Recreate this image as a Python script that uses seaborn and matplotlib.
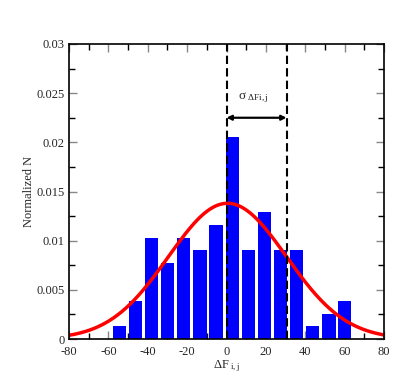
import numpy as np
import pandas as pd
import matplotlib
matplotlib.use("Agg")
import matplotlib.pyplot as plt
import seaborn as sns
from matplotlib.ticker import MultipleLocator

# ---- data ----
bin_centers = [-54.4, -46.2, -38.0, -29.9, -21.7, -13.5, -5.3, 2.9,
               11.1, 19.2, 27.4, 35.6, 43.8, 52.0, 60.1]
norm_counts = [0.00129, 0.00386, 0.01029, 0.00772, 0.01029, 0.00901, 0.01158,
               0.02059, 0.00901, 0.01287, 0.00901, 0.00901, 0.00129, 0.00257, 0.00386]
gauss_mu = 0.5
gauss_sigma = 30.0
gauss_amp = 0.0138
sigma_line_x = 30.5
arrow_y = 0.0225
xlabel = r"$\Delta$F$_{\ \mathrm{i,j}}$"
ylabel = "Normalized N"

sns.set_style("ticks")
plt.rcParams["font.family"] = ["Liberation Serif", "DejaVu Serif"]
plt.rcParams["mathtext.fontset"] = "custom"
plt.rcParams["mathtext.rm"] = "Liberation Serif"
plt.rcParams["mathtext.it"] = "Liberation Serif:italic"
plt.rcParams["mathtext.default"] = "rm"

fig = plt.figure(figsize=(4.15, 3.78), dpi=100)
ax = fig.add_axes([69/415, 1-339/378, (384-69)/415, (339-44)/378])

df = pd.DataFrame({"x": bin_centers, "y": norm_counts})
sns.barplot(data=df, x="x", y="y", native_scale=True, width=6.8/8.18,
            color="#0000ff", saturation=1, edgecolor="#0000ff", linewidth=0, ax=ax)

xs = np.linspace(-80, 80, 400)
curve = pd.DataFrame({"x": xs, "y": gauss_amp*np.exp(-(xs-gauss_mu)**2/(2*gauss_sigma**2))})
sns.lineplot(data=curve, x="x", y="y", color="#ff0000", lw=2.5, ax=ax)

for xv in (0, sigma_line_x):
    ax.axvline(xv, color="black", lw=1.5, ls=(0, (4, 2)), zorder=5)

ax.annotate("", xy=(0, arrow_y), xytext=(sigma_line_x, arrow_y),
            arrowprops=dict(arrowstyle="<|-|>", color="black", lw=1.6,
                            mutation_scale=7, shrinkA=0, shrinkB=0), zorder=6)
ax.text(13.5, 0.0245, r"$\sigma_{\ \Delta\mathrm{Fi,j}}$", ha="center", va="center", fontsize=9.5)

ax.set_xlim(-80, 80)
ax.set_ylim(0, 0.03)
ax.xaxis.set_minor_locator(MultipleLocator(10))
ax.yaxis.set_minor_locator(MultipleLocator(0.0025))
ax.set_xticks([-80, -60, -40, -20, 0, 20, 40, 60, 80])
ax.set_xticklabels(["-80", "-60", "-40", "-20", "0", "20", "40", "60", "80"])
ax.set_yticks([0, 0.005, 0.01, 0.015, 0.02, 0.025, 0.03])
ax.set_yticklabels(["0", "0.005", "0.01", "0.015", "0.02", "0.025", "0.03"])
ax.tick_params(which="both", direction="in", top=True, right=True, labelsize=9,
               width=1, color="black", pad=3)
ax.tick_params(axis="x", which="both", pad=5)
ax.tick_params(which="major", length=6, color="#888888")
ax.tick_params(which="minor", length=4)
for s in ax.spines.values():
    s.set_linewidth(1.2)
    s.set_color("black")
ax.set_xlabel(xlabel, fontsize=9, labelpad=0)
ax.set_ylabel(ylabel, fontsize=9, labelpad=1)

fig.savefig("out.png", dpi=100)
